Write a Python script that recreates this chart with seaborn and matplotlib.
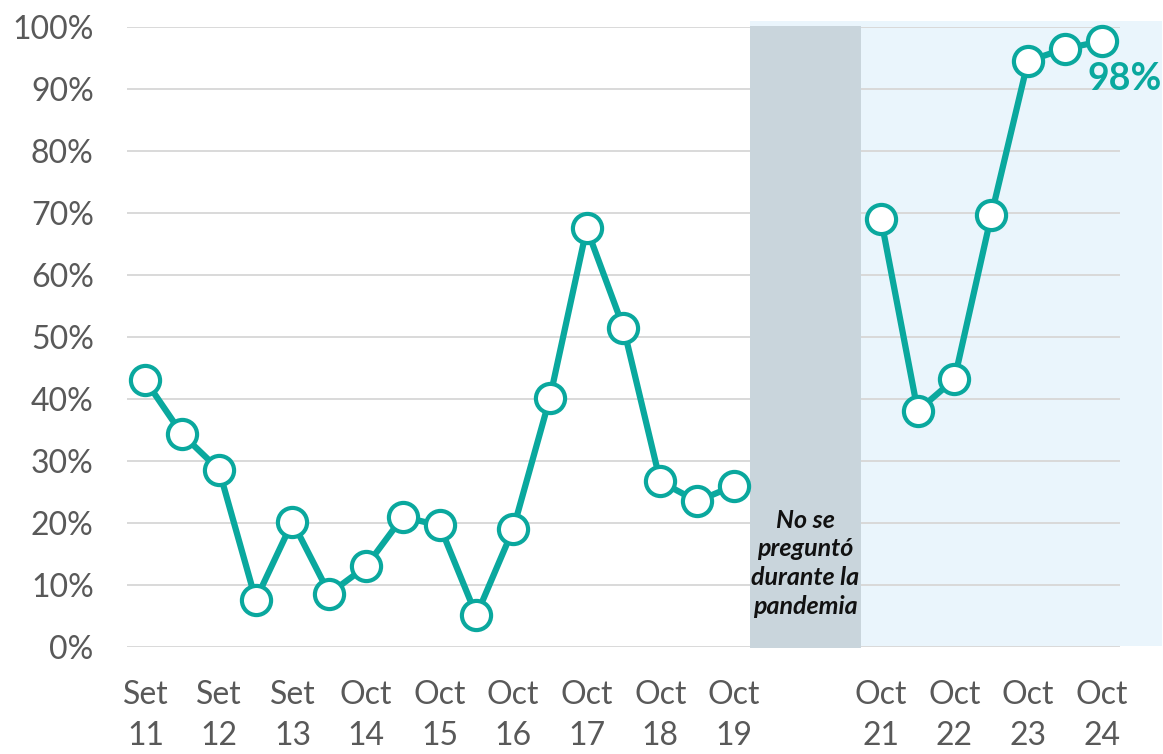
import pandas as pd
import numpy as np
import matplotlib
matplotlib.use('Agg')
import matplotlib.pyplot as plt
import seaborn as sns
from matplotlib.patches import Rectangle

# etiquetas del eje x (los huecos corresponden a la pandemia)
labels = ['Set\n11', '', 'Set\n12', '', 'Set\n13', '', 'Oct\n14', '', 'Oct\n15', '',
          'Oct\n16', '', 'Oct\n17', '', 'Oct\n18', '', 'Oct\n19',
          '', '', '',
          'Oct\n21', '', 'Oct\n22', '', 'Oct\n23', '', 'Oct\n24']

# valores (%) antes y despues de la pandemia
values_pre = [43, 34.3, 28.6, 7.6, 20.2, 8.6, 13.0, 21.0, 19.6, 5.1, 19.0, 40.2,
              67.5, 51.5, 26.7, 23.5, 26.0]
values_post = [69.1, 38.1, 43.2, 69.6, 94.5, 96.5, 97.7]

teal = '#0AA89E'

pre = pd.DataFrame({'pos': np.arange(len(values_pre)), 'val': values_pre, 'seg': 'pre'})
post = pd.DataFrame({'pos': np.arange(len(values_post)) + 20, 'val': values_post, 'seg': 'post'})
df = pd.concat([pre, post], ignore_index=True)

sns.set_style('white')
plt.rcParams['font.family'] = ['Lato', 'DejaVu Sans']

fig = plt.figure(figsize=(11.63, 7.54), dpi=100)
ax = fig.add_axes([0.1092, 0.1419, 0.8538, 0.8223])

# fondos
ax.add_patch(Rectangle((16.45, 0.2), 11.2, 100.8, facecolor='#EAF5FC', edgecolor='none',
                       zorder=0.2, clip_on=False))
ax.add_patch(Rectangle((16.45, -0.2), 3.02, 100.4, facecolor='#C9D5DC', edgecolor='none',
                       zorder=1, clip_on=False))

sns.lineplot(data=df, x='pos', y='val', units='seg', estimator=None, ax=ax,
             color=teal, linewidth=4.5, marker='o', markersize=21,
             markerfacecolor='white', markeredgecolor=teal, markeredgewidth=3,
             zorder=3, clip_on=False)

ax.set_xlim(-0.5, 26.5)
ax.set_ylim(0, 100)
ax.set_yticks(np.arange(0, 101, 10))
ax.set_yticklabels([f'{v}%' for v in range(0, 101, 10)])
ax.set_xticks(np.arange(len(labels)))
ax.set_xticklabels(labels, linespacing=1.45)
ax.tick_params(axis='both', length=0, labelsize=23, colors='#595959')
ax.tick_params(axis='y', pad=24)
ax.tick_params(axis='x', pad=24)
ax.set_xlabel('')
ax.set_ylabel('')
ax.set_axisbelow(True)
ax.yaxis.grid(True, color='#D9D9D9', linewidth=1.4)
ax.xaxis.grid(False)
for s in ax.spines.values():
    s.set_visible(False)

ax.text(17.95, 13.5, 'No se\npreguntó\ndurante la\npandemia', ha='center', va='center',
        fontsize=18, fontweight='bold', fontstyle='italic', color='#111111',
        linespacing=1.3, zorder=4)

ax.annotate('98%', xy=(26, values_post[-1]), xytext=(16.5, -27), textcoords='offset points',
            ha='center', va='center', fontsize=27, fontweight='bold', color=teal,
            annotation_clip=False, zorder=4)

fig.savefig('out.png', dpi=100)
